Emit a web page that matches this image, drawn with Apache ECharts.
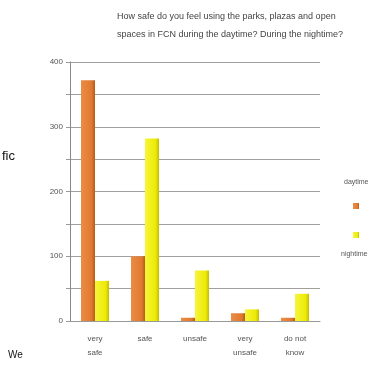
<!DOCTYPE html>
<html>
<head>
<meta charset="utf-8">
<script src="https://cdn.jsdelivr.net/npm/echarts@6/dist/echarts.min.js"></script>
<style>
  html, body { margin: 0; padding: 0; background: #fff; }
  #chart { width: 370px; height: 369px; }
</style>
</head>
<body>
<div id="chart"></div>
<script>
const categories = ['very\nsafe', 'safe', 'unsafe', 'very\nunsafe', 'do not\nknow']
const daytime = [372, 100, 5, 12, 5]
const nightime = [62, 282, 78, 18, 42]
const yTicks = [0, 100, 200, 300, 400]

const chart = echarts.init(document.getElementById('chart'))

const barColor = (light, mid, dark) =>
  new echarts.graphic.LinearGradient(0, 0, 1, 0, [
    { offset: 0, color: light },
    { offset: 0.75, color: mid },
    { offset: 1, color: dark }
  ])

const option = {
  animation: false,
  textStyle: { fontFamily: 'Liberation Sans' },
  graphic: [
    {
      type: 'text', left: 117, top: 8,
      style: {
        text: 'How safe do you feel using the parks, plazas and open\nspaces in FCN during the daytime? During the nightime?',
        font: '9px "Liberation Sans"', fill: '#444', lineHeight: 18
      }
    },
    { type: 'text', left: 2, top: 150, style: { text: 'fic', font: '13px "Liberation Sans"', fill: '#111' } },
    { type: 'text', left: 8, top: 350, style: { text: 'We', font: '10px "Liberation Sans"', fill: '#111' } },
    { type: 'text', left: 344, top: 179, style: { text: 'daytime', font: '7px "Liberation Sans"', fill: '#555' } },
    { type: 'text', left: 341, top: 251, style: { text: 'nightime', font: '7px "Liberation Sans"', fill: '#555' } }
  ],
  legend: {
    orient: 'vertical',
    left: 348,
    top: 198,
    itemWidth: 6,
    itemHeight: 6,
    itemGap: 23,
    icon: 'rect',
    formatter: () => '',
    data: ['daytime', 'nightime']
  },
  grid: { left: 70, right: 50, top: 62, bottom: 48 },
  xAxis: {
    type: 'category',
    data: categories,
    axisLine: { lineStyle: { color: '#999' } },
    axisTick: { lineStyle: { color: '#999' } },
    axisLabel: { color: '#555', fontSize: 8, lineHeight: 14, margin: 11 }
  },
  yAxis: {
    type: 'value',
    min: 0,
    max: 400,
    interval: 50,
    axisLine: { show: true, lineStyle: { color: '#888' } },
    axisTick: { show: true, length: 4, lineStyle: { color: '#999' } },
    axisLabel: {
      color: '#555', fontSize: 8, margin: 7,
      formatter: v => (yTicks.includes(v) ? String(v) : '')
    },
    splitLine: { lineStyle: { color: '#a0a0a0', width: 1 } }
  },
  series: [
    {
      name: 'daytime',
      type: 'bar',
      barWidth: 14,
      barGap: '0%',
      itemStyle: { color: barColor('#EC8C44', '#E07A32', '#B65A1C') },
      data: daytime
    },
    {
      name: 'nightime',
      type: 'bar',
      barWidth: 14,
      itemStyle: { color: barColor('#F6F63A', '#EDEA08', '#C4BE00') },
      data: nightime
    }
  ]
}

chart.setOption(option)
</script>
</body>
</html>
